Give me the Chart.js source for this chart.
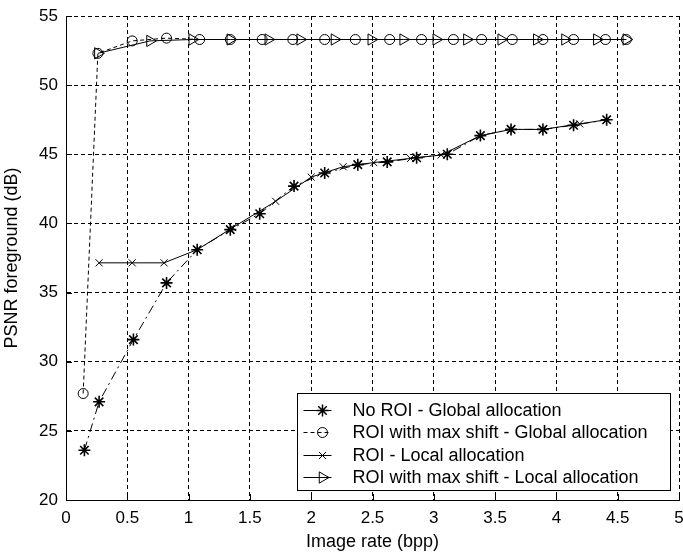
<!DOCTYPE html>
<html>
<head>
<meta charset="utf-8">
<script src="https://cdn.jsdelivr.net/npm/chart.js@4.4.1/dist/chart.umd.min.js"></script>
<style>
html,body{margin:0;padding:0;background:#fff;}
#wrap{width:683px;height:555px;position:relative;}
</style>
</head>
<body>
<div id="wrap"><canvas id="c" width="683" height="555"></canvas></div>
<script>
// ---- data ----
const xTicks = [0, 0.5, 1, 1.5, 2, 2.5, 3, 3.5, 4, 4.5, 5];
const xTickLabels = ['0', '0.5', '1', '1.5', '2', '2.5', '3', '3.5', '4', '4.5', '5'];
const yTicks = [20, 25, 30, 35, 40, 45, 50, 55];
const yTickLabels = ['20', '25', '30', '35', '40', '45', '50', '55'];
const seriesNames = [
  'No ROI - Global allocation',
  'ROI with max shift - Global allocation',
  'ROI - Local allocation',
  'ROI with max shift - Local allocation'
];
const xTitle = 'Image rate (bpp)';
const yTitle = 'PSNR foreground (dB)';

const noRoiGlobalX = [0.15, 0.27, 0.55, 0.82, 1.07, 1.34, 1.58, 1.86, 2.11, 2.38, 2.62, 2.86, 3.11, 3.38, 3.63, 3.89, 4.14, 4.41];
const noRoiGlobalY = [23.6, 27.1, 31.6, 35.7, 38.1, 39.55, 40.7, 42.7, 43.65, 44.25, 44.45, 44.75, 45.0, 46.35, 46.8, 46.8, 47.1, 47.5];

const roiShiftGlobalX = [0.14, 0.26, 0.54, 0.82, 1.09, 1.34, 1.60, 1.85, 2.11, 2.36, 2.64, 2.90, 3.16, 3.39, 3.64, 3.89, 4.14, 4.40, 4.57];
const roiShiftGlobalY = [27.7, 52.3, 53.2, 53.4, 53.3, 53.3, 53.3, 53.3, 53.3, 53.3, 53.3, 53.3, 53.3, 53.3, 53.3, 53.3, 53.3, 53.3, 53.3];

const roiLocalX = [0.27, 0.54, 0.80, 1.07, 1.36, 1.71, 2.00, 2.26, 2.51, 2.81, 3.06, 3.38, 3.63, 3.89, 4.19, 4.41];
const roiLocalY = [37.15, 37.15, 37.15, 38.1, 39.7, 41.6, 43.35, 44.1, 44.4, 44.7, 44.95, 46.35, 46.8, 46.8, 47.2, 47.5];

const roiShiftLocalX = [0.26, 0.685, 1.03, 1.34, 1.65, 1.91, 2.19, 2.49, 2.75, 3.02, 3.27, 3.55, 3.84, 4.07, 4.33, 4.57];
const roiShiftLocalY = [52.3, 53.2, 53.3, 53.3, 53.3, 53.3, 53.3, 53.3, 53.3, 53.3, 53.3, 53.3, 53.3, 53.3, 53.3, 53.3];

// ---- helpers ----
const FONT = '"Liberation Sans", Arial, Helvetica, sans-serif';
const pts = (xs, ys) => xs.map((x, i) => ({x: x, y: ys[i]}));

function drawMarker(ctx, kind, x, y) {
  ctx.beginPath();
  if (kind === 'star') {
    const r = 6, d = r * Math.SQRT1_2;
    ctx.moveTo(x - r, y); ctx.lineTo(x + r, y);
    ctx.moveTo(x, y - r); ctx.lineTo(x, y + r);
    ctx.moveTo(x - d, y - d); ctx.lineTo(x + d, y + d);
    ctx.moveTo(x - d, y + d); ctx.lineTo(x + d, y - d);
  } else if (kind === 'circle') {
    ctx.arc(x, y, 5, 0, Math.PI * 2);
  } else if (kind === 'cross') {
    const d = 3.5;
    ctx.moveTo(x - d, y - d); ctx.lineTo(x + d, y + d);
    ctx.moveTo(x - d, y + d); ctx.lineTo(x + d, y - d);
  } else if (kind === 'tri') {
    const r = 6.5, s = Math.sin(Math.PI / 3) * r;
    ctx.moveTo(x + r, y); ctx.lineTo(x - r / 2, y - s); ctx.lineTo(x - r / 2, y + s); ctx.closePath();
  }
  ctx.stroke();
}

const tickPlugin = {
  id: 'inwardTicks',
  afterDraw(chart) {
    const {ctx, chartArea: {left, bottom}, scales: {x, y}} = chart;
    ctx.save();
    ctx.strokeStyle = '#000';
    ctx.lineWidth = 1;
    ctx.setLineDash([]);
    ctx.beginPath();
    xTicks.forEach(v => {
      const px = Math.round(x.getPixelForValue(v)) + 0.5;
      ctx.moveTo(px, bottom); ctx.lineTo(px, bottom - 6);
    });
    yTicks.forEach(v => {
      const py = Math.round(y.getPixelForValue(v)) + 0.5;
      ctx.moveTo(left, py); ctx.lineTo(left + 6, py);
    });
    ctx.stroke();
    ctx.restore();
  }
};

const legendPlugin = {
  id: 'matlabLegend',
  afterDraw(chart) {
    const {ctx, chartArea: {right, bottom}} = chart;
    const w = 373, h = 97;
    const bx = Math.round(right - 9 - w) + 0.5;
    const by = Math.round(bottom - 10 - h) + 0.5;
    ctx.save();
    ctx.fillStyle = '#fff';
    ctx.fillRect(bx, by, w, h);
    ctx.strokeStyle = '#000';
    ctx.lineWidth = 1;
    ctx.setLineDash([]);
    ctx.strokeRect(bx, by, w, h);
    const kinds = ['star', 'circle', 'cross', 'tri'];
    const dashes = [[], [4, 3], [], []];
    ctx.font = '18px ' + FONT;
    ctx.textBaseline = 'middle';
    ctx.fillStyle = '#000';
    for (let i = 0; i < 4; i++) {
      const ry = Math.round(by + 16 + i * 22.5) + 0.5;
      ctx.setLineDash(dashes[i]);
      ctx.beginPath();
      ctx.moveTo(bx + 6, ry); ctx.lineTo(bx + 34, ry);
      ctx.stroke();
      ctx.setLineDash([]);
      ctx.lineWidth = i === 0 ? 1.5 : 1;
      drawMarker(ctx, kinds[i], bx + 25, ry);
      ctx.lineWidth = 1;
      ctx.fillText(seriesNames[i], bx + 55, ry + 1);
    }
    ctx.restore();
  }
};

const ctx = document.getElementById('c').getContext('2d');
new Chart(ctx, {
  type: 'line',
  data: {
    datasets: [
      {
        label: seriesNames[0],
        data: pts(noRoiGlobalX, noRoiGlobalY),
        borderColor: '#000', borderWidth: 1, borderDash: [9, 4, 2, 4],
        pointStyle: 'star', pointRadius: 6, pointBorderWidth: 1.6,
        pointBorderColor: '#000', pointBackgroundColor: '#000', tension: 0, fill: false
      },
      {
        label: seriesNames[1],
        data: pts(roiShiftGlobalX, roiShiftGlobalY),
        borderColor: '#000', borderWidth: 1, borderDash: [4, 3],
        pointStyle: 'circle', pointRadius: 5, pointBorderWidth: 1,
        pointBorderColor: '#000', pointBackgroundColor: 'rgba(0,0,0,0)', tension: 0, fill: false
      },
      {
        label: seriesNames[2],
        data: pts(roiLocalX, roiLocalY),
        borderColor: '#000', borderWidth: 1,
        pointStyle: 'crossRot', pointRadius: 5, pointBorderWidth: 1,
        pointBorderColor: '#000', pointBackgroundColor: 'rgba(0,0,0,0)', tension: 0, fill: false
      },
      {
        label: seriesNames[3],
        data: pts(roiShiftLocalX, roiShiftLocalY),
        borderColor: '#000', borderWidth: 1,
        pointStyle: 'triangle', pointRotation: 90, pointRadius: 6.5, pointBorderWidth: 1,
        pointBorderColor: '#000', pointBackgroundColor: 'rgba(0,0,0,0)', tension: 0, fill: false
      }
    ]
  },
  options: {
    responsive: false,
    animation: false,
    events: [],
    layout: {autoPadding: false, padding: {top: 16, right: 4, left: 0, bottom: 0}},
    plugins: {legend: {display: false}, tooltip: {enabled: false}},
    scales: {
      x: {
        type: 'linear', min: 0, max: 5,
        afterBuildTicks: s => { s.ticks = xTicks.map(v => ({value: v})); },
        grid: {color: '#000', lineWidth: 1, drawTicks: false},
        border: {display: true, color: '#000', width: 1, dash: [4, 3]},
        ticks: {
          color: '#000', font: {family: FONT, size: 17}, padding: 8,
          maxRotation: 0, autoSkip: false,
          callback: (v) => { const i = xTicks.indexOf(v); return i >= 0 ? xTickLabels[i] : ''; }
        },
        title: {display: true, text: xTitle, color: '#000', font: {family: FONT, size: 18}, padding: {top: 0, bottom: 2}},
        afterFit: s => { s.height = 55; s.paddingLeft = 0; s.paddingRight = 4; }
      },
      y: {
        type: 'linear', min: 20, max: 55,
        afterBuildTicks: s => { s.ticks = yTicks.map(v => ({value: v})); },
        grid: {color: '#000', lineWidth: 1, drawTicks: false},
        border: {display: true, color: '#000', width: 1, dash: [4, 3]},
        ticks: {
          color: '#000', font: {family: FONT, size: 17}, padding: 8,
          autoSkip: false,
          callback: (v) => { const i = yTicks.indexOf(v); return i >= 0 ? yTickLabels[i] : ''; }
        },
        title: {display: true, text: yTitle, color: '#000', font: {family: FONT, size: 18}, padding: {top: 1, bottom: 0}},
        afterFit: s => { s.width = 66; s.paddingTop = 0; s.paddingBottom = 0; }
      }
    }
  },
  plugins: [tickPlugin, legendPlugin]
});
</script>
</body>
</html>
